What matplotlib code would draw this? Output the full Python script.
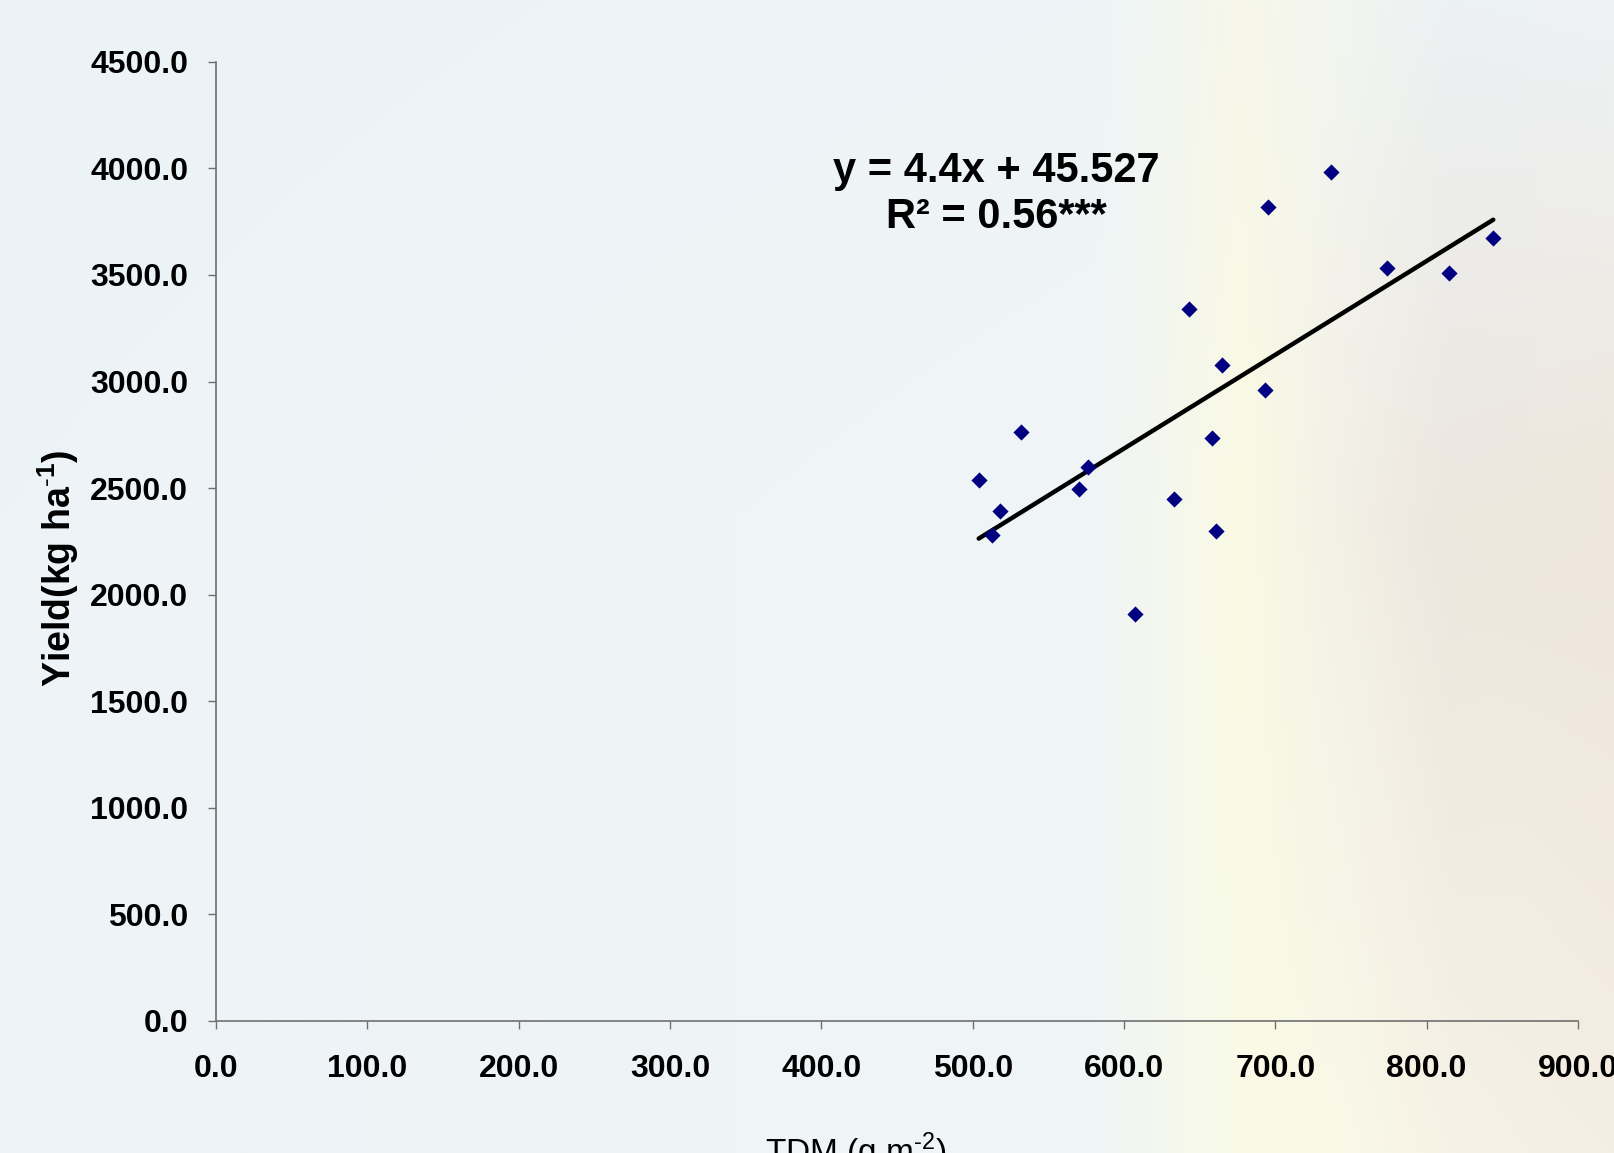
import numpy as np
import matplotlib.pyplot as plt

plt.rcParams['font.family'] = ['Liberation Sans', 'DejaVu Sans']
plt.rcParams['mathtext.fontset'] = 'custom'
plt.rcParams['mathtext.rm'] = 'Liberation Sans'
plt.rcParams['mathtext.bf'] = 'Liberation Sans:bold'

# data
tdm = [504, 513, 518, 532, 570, 576, 607, 633, 643, 658, 661, 665,
       693, 695, 737, 774, 815, 844]
yield_kg = [2539, 2278, 2394, 2761, 2495, 2597, 1911, 2447, 3340, 2737,
            2297, 3079, 2958, 3818, 3982, 3533, 3509, 3673]
slope = 4.4
intercept = 45.527
r2_text = "R² = 0.56***"

x_ticks = np.arange(0, 901, 100)
y_ticks = np.arange(0, 4501, 500)

fig = plt.figure(figsize=(16.14, 11.53), dpi=100)

# soft background like the slide behind the chart
bg = fig.add_axes([0, 0, 1, 1], zorder=-1)
bg.axis("off")
stops = [0, 0.68, 0.77, 0.83, 0.90, 1.0]
rows = [
    [(236, 243, 246), (238, 244, 247), (247, 247, 234), (242, 245, 240), (236, 241, 243), (238, 242, 244)],
    [(237, 243, 246), (240, 245, 246), (250, 250, 228), (243, 240, 230), (236, 230, 222), (238, 230, 219)],
    [(237, 243, 246), (240, 245, 246), (249, 250, 230), (250, 249, 232), (246, 242, 229), (245, 238, 227)],
]
xx = np.linspace(0, 1, 400)
img_rows = []
for row in rows:
    arr = np.array(row, dtype=float)
    img_rows.append(np.stack([np.interp(xx, stops, arr[:, c]) for c in range(3)], axis=-1))
yy = np.linspace(0, 1, 300)
img = np.empty((300, 400, 3))
for c in range(3):
    for i in range(400):
        img[:, i, c] = np.interp(yy, [0, 0.45, 1], [r[i, c] for r in img_rows])
bg.imshow(img / 255.0, aspect="auto", extent=[0, 1, 0, 1], origin="upper", interpolation="bilinear")
bg.set_xlim(0, 1)
bg.set_ylim(0, 1)

ax = fig.add_axes([0.1338, 0.1145, 0.8439, 0.8319])
ax.set_facecolor("none")

ax.scatter(tdm, yield_kg, marker="D", s=68, color="#000080", zorder=3, linewidths=0)

xl = np.array([min(tdm), max(tdm)])
ax.plot(xl, slope * xl + intercept, color="black", lw=3.2, solid_capstyle="round", zorder=2)

ax.text(515.6, 3990, f"y = {slope}x + {intercept}", fontsize=30, fontweight="bold",
        ha="center", va="center")
ax.text(515.6, 3770, r2_text, fontsize=30, fontweight="bold", ha="center", va="center")

ax.set_xlim(0, 900)
ax.set_ylim(0, 4500)
ax.set_xticks(x_ticks)
ax.set_yticks(y_ticks)
ax.set_xticklabels([f"{v:.1f}" for v in x_ticks])
ax.set_yticklabels([f"{v:.1f}" for v in y_ticks])

for s in ["top", "right"]:
    ax.spines[s].set_visible(False)
for s in ["left", "bottom"]:
    ax.spines[s].set_color("#707070")
    ax.spines[s].set_linewidth(1.2)

ax.tick_params(axis="both", length=6, width=1, color="#707070", labelsize=23)
ax.tick_params(axis="y", pad=14)
ax.tick_params(axis="x", pad=18)
for lab in ax.get_xticklabels() + ax.get_yticklabels():
    lab.set_fontweight("bold")

ax.set_ylabel(r"Yield(kg ha$^{\mathbf{\text{-}1}}$)", fontsize=27, fontweight="bold", va="center")
ax.yaxis.set_label_coords(-0.1155, 0.472)
ax.set_xlabel(r"TDM (g m$^{\text{-}2}$)", fontsize=24)
ax.xaxis.set_label_coords(0.47, -0.114)

fig.savefig("out.png", dpi=100)
